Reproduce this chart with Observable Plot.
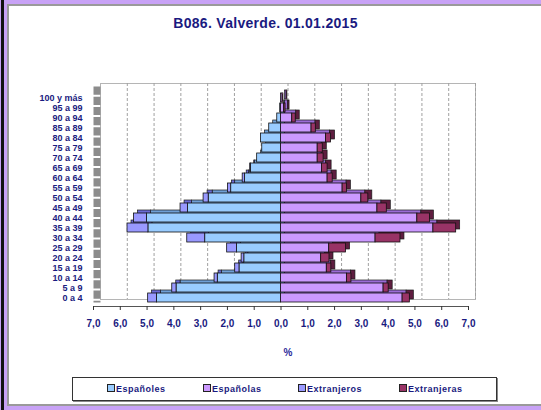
<!DOCTYPE html>
<html><head><meta charset="utf-8">
<script src="https://cdn.jsdelivr.net/npm/d3@7"></script>
<script src="https://cdn.jsdelivr.net/npm/@observablehq/plot@0.6"></script>
<style>
html,body{margin:0;padding:0;}
body{width:541px;height:410px;background:#c8a2f6;position:relative;overflow:hidden;font-family:"Liberation Sans",Arial,sans-serif;}
#edge{position:absolute;left:1px;top:0;width:3px;height:410px;background:#111;}
#panel{position:absolute;left:7px;top:4px;width:534px;height:398px;background:#fff;border-top:2px solid #9a9a9a;border-left:2px solid #9a9a9a;border-bottom:2px solid #9a9a9a;}
#title{position:absolute;left:0;top:15px;width:531px;text-align:center;font-size:14px;line-height:16px;font-weight:bold;color:#1a1a80;letter-spacing:0.3px;}
#chart{position:absolute;left:0;top:40px;}
#pct{position:absolute;left:280px;top:347px;width:16px;text-align:center;font-size:10px;line-height:12px;color:#2a2a9a;font-weight:bold;}
#legend{position:absolute;left:72px;top:377px;width:423px;height:22px;border:1px solid #333;background:#fff;box-shadow:1px 1px 0 #888;}
.item{position:absolute;top:6px;font-size:9px;line-height:11px;font-weight:bold;color:#1a1a80;white-space:nowrap;letter-spacing:0.5px;}
.sw{display:inline-block;width:6px;height:6px;border:1px solid #222;margin-right:1px;vertical-align:0px;}
</style></head>
<body>
<div id="edge"></div>
<div id="panel"></div>
<div id="title">B086. Valverde. 01.01.2015</div>
<div id="chart"></div>
<div id="pct">%</div>
<div id="legend"></div>
<script>
const ages = ["0 a 4","5 a 9","10 a 14","15 a 19","20 a 24","25 a 29","30 a 34","35 a 39","40 a 44","45 a 49","50 a 54","55 a 59","60 a 64","65 a 69","70 a 74","75 a 79","80 a 84","85 a 89","90 a 94","95 a 99","100 y más"];
const espanoles   = [4.63,3.90,2.36,1.55,1.37,1.64,2.83,4.95,5.00,3.47,2.70,1.86,1.34,1.12,0.89,0.70,0.75,0.44,0.14,0.03,0.00];
const extranjeros = [0.33,0.16,0.12,0.16,0.10,0.37,0.67,0.78,0.49,0.28,0.19,0.12,0.09,0.03,0.00,0.00,0.00,0.00,0.00,0.00,0.00];
const espanolas   = [4.54,3.83,2.46,1.71,1.50,1.80,3.53,5.69,5.09,3.60,3.00,2.30,1.74,1.53,1.37,1.37,1.68,1.14,0.42,0.12,0.06];
const extranjeras = [0.27,0.19,0.17,0.17,0.31,0.63,0.93,0.85,0.47,0.35,0.26,0.16,0.19,0.21,0.22,0.19,0.19,0.16,0.13,0.05,0.03];
const series = ["Españoles","Españolas","Extranjeros","Extranjeras"];
const frontColors = {"Españoles":"#99ccff","Españolas":"#cc99ff","Extranjeros":"#9999ff","Extranjeras":"#993366"};
const backColors  = {"Españoles":"#6f9fd6","Españolas":"#9c6bd6","Extranjeros":"#6b6bd6","Extranjeras":"#5e1d3f"};
const xTicks = [-7,-6,-5,-4,-3,-2,-1,0,1,2,3,4,5,6,7];
const fmt = d => Math.abs(d).toFixed(1).replace(".", ",");

const rows = [];
ages.forEach((a,i) => {
  rows.push({age:a, grp:"Españoles", x1:-espanoles[i], x2:0});
  rows.push({age:a, grp:"Extranjeros", x1:-(espanoles[i]+extranjeros[i]), x2:-espanoles[i]});
  rows.push({age:a, grp:"Españolas", x1:0, x2:espanolas[i]});
  rows.push({age:a, grp:"Extranjeras", x1:espanolas[i], x2:espanolas[i]+extranjeras[i]});
});
const data = rows.filter(d => d.x2 - d.x1 > 0);

const backMarks = series.map(s => Plot.barX(data.filter(d => d.grp === s), {y:"age", x1:"x1", x2:"x2", fill:backColors[s], stroke:"#1a1a1a", strokeWidth:0.7, dx:4, dy:-3}));
const frontMarks = series.map(s => Plot.barX(data.filter(d => d.grp === s), {y:"age", x1:"x1", x2:"x2", fill:frontColors[s], stroke:"#111", strokeWidth:0.8}));

const chart = Plot.plot({
  width:541, height:330,
  marginLeft:93, marginRight:73, marginTop:50, marginBottom:64,
  style:{fontFamily:"'Liberation Sans', Arial, sans-serif", color:"#1a1a80", background:"transparent"},
  x:{domain:[-7,7], axis:null},
  y:{domain:ages.slice().reverse(), padding:0.06, axis:null},
  marks:[
    Plot.frame({stroke:"#b5b5b5", dx:7, dy:-7}),
    Plot.ruleX(xTicks.slice(1), {stroke:"#a0a0a0", strokeDasharray:"3,2", dx:7, dy:-7}),
    Plot.ruleX([-7], {stroke:"#8c8c8c", strokeWidth:7, dx:3.5, dy:-3.5, strokeDasharray:"8.2,2"}),
    ...backMarks,
    ...frontMarks,
    Plot.frame({anchor:"bottom", stroke:"#555"}),
    Plot.axisX({ticks:xTicks, tickFormat:fmt, tickSize:4, tickPadding:9, fontSize:10, fontWeight:"bold", stroke:"#333", label:null}),
    Plot.axisY({tickSize:0, tickPadding:11, fontSize:9, fontWeight:"bold", label:null})
  ]
});
document.getElementById("chart").appendChild(chart);

const legendPos = [34, 130, 225, 326];
const leg = document.getElementById("legend");
series.forEach((s,i) => {
  const it = document.createElement("div");
  it.className = "item";
  it.style.left = legendPos[i] + "px";
  it.innerHTML = `<span class="sw" style="background:${frontColors[s]}"></span>${s}`;
  leg.appendChild(it);
});
</script>
</body></html>
